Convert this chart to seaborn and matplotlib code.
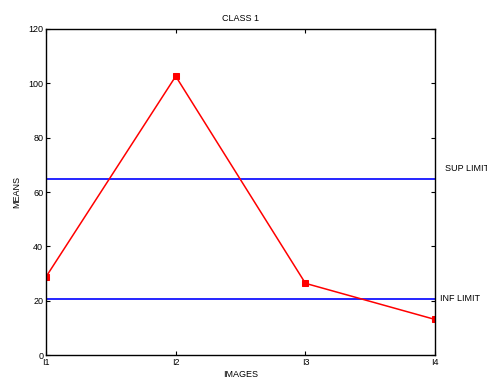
import matplotlib
matplotlib.use("Agg")
import matplotlib.pyplot as plt
import seaborn as sns
import pandas as pd

images = ["I1", "I2", "I3", "I4"]
means = [28.8, 102.6, 26.4, 13.1]
sup_limit = 64.8
inf_limit = 20.6
yticks = [0, 20, 40, 60, 80, 100, 120]

sns.set_theme(style="white")
plt.rcParams['font.family'] = ['Liberation Sans', 'DejaVu Sans']
plt.rcParams['text.color'] = 'black'
plt.rcParams['axes.labelcolor'] = 'black'

df = pd.DataFrame({"x": range(len(images)), "mean": means})

fig = plt.figure(figsize=(4.87, 3.81), dpi=100)
ax = fig.add_axes([0.0945, 0.068, 0.799, 0.856])

ax.axhline(sup_limit, color="blue", lw=1.2)
ax.axhline(inf_limit, color="blue", lw=1.2)
sns.lineplot(data=df, x="x", y="mean", ax=ax, color="red", marker="s",
             markersize=5, markeredgecolor="red", lw=1.1)

ax.set_xlim(0, len(images) - 1)
ax.set_ylim(0, 120)
ax.set_xticks(range(len(images)))
ax.set_xticklabels(images)
ax.set_yticks(yticks)
ax.tick_params(direction="in", length=3, width=0.8, labelsize=6.5, colors="black",
               top=True, right=True, bottom=True, left=True, pad=2)
for s in ax.spines.values():
    s.set_color("black")
    s.set_linewidth(1.0)

ax.set_title("CLASS 1", fontsize=6.5, pad=6, color="black")
ax.set_xlabel("IMAGES", fontsize=6.5, labelpad=2)
ax.set_ylabel("MEANS", fontsize=6.5, labelpad=5)

ax.text(3.077, 68.5, "SUP LIMIT", fontsize=6.5, va="center", ha="left", clip_on=False)
ax.text(3.04, 20.8, "INF LIMIT", fontsize=6.5, va="center", ha="left", clip_on=False)

fig.savefig("out.png", dpi=100)
